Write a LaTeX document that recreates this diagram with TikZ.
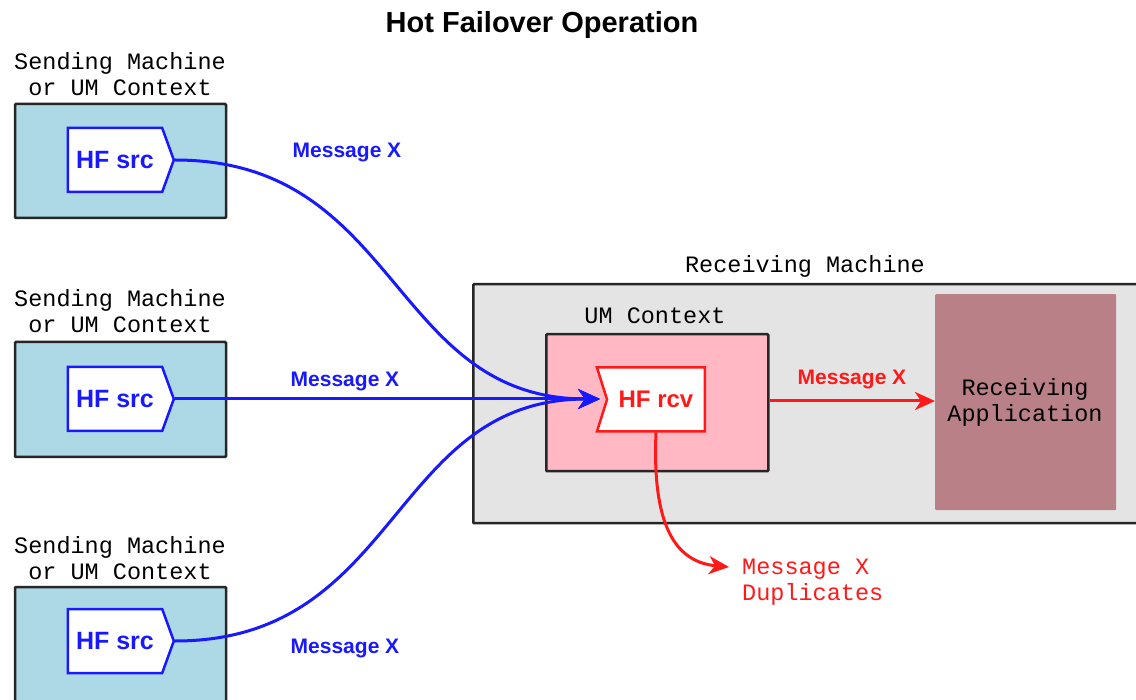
\documentclass[tikz,border=0pt]{standalone}
\usepackage{fontspec}
\setmainfont{Liberation Sans}
\newfontfamily\monofont{Liberation Mono}
\usepackage{xcolor}
\usetikzlibrary{arrows.meta,shapes.symbols}

\definecolor{srcblue}{RGB}{173,216,230}
\definecolor{ctxpink}{RGB}{255,184,196}
\definecolor{machgray}{RGB}{228,228,228}
\definecolor{appmauve}{RGB}{186,128,136}
\definecolor{msgblue}{RGB}{25,25,255}
\definecolor{msgred}{RGB}{255,25,25}

\tikzset{
  box/.style={draw=black!85, line width=2.5, rounded corners=1, inner sep=0},
  caption/.style={font=\monofont\fontsize{23.5}{26}\selectfont, align=center, inner sep=0},
  hfsrc/.style={signal, signal to=east, signal pointer angle=140, draw=msgblue, fill=white,
    line width=2.5, text=msgblue, font=\bfseries\fontsize{25}{28}\selectfont,
    minimum width=106, minimum height=64, inner sep=0},
  hfrcv/.style={signal, signal from=west, signal to=nowhere, signal pointer angle=145, draw=msgred,
    fill=white, line width=2.5, text=msgred, font=\bfseries\fontsize{24}{28}\selectfont,
    minimum width=108, minimum height=64, inner sep=0},
  bluemsg/.style={msgblue, line width=3, -{Stealth[length=22, width=20, inset=7]}},
  redmsg/.style={msgred, line width=3, -{Stealth[length=20, width=18, inset=6]}},
  msglabel/.style={font=\bfseries\fontsize{21}{24}\selectfont, inner sep=0}
}

\begin{document}
\begin{tikzpicture}[x=1pt, y=-1pt]
\clip (0,0) rectangle (1136,700);
\fill[white] (0,0) rectangle (1136,700);

\node[font=\bfseries\fontsize{29}{32}\selectfont, inner sep=0] (title) at (542,25) {Hot Failover Operation};

\node[box, fill=srcblue, minimum width=211, minimum height=114] (send1) at (120.5,161) {};
\node[box, fill=srcblue, minimum width=211, minimum height=115] (send2) at (120.5,399.5) {};
\node[box, fill=srcblue, minimum width=211, minimum height=130] (send3) at (120.5,652) {};
\node[caption] (send1cap) at (120,74) {Sending Machine\\or UM Context};
\node[caption] (send2cap) at (120,311) {Sending Machine\\or UM Context};
\node[caption] (send3cap) at (120,558) {Sending Machine\\or UM Context};

\node[hfsrc] (src1) at (115,160) {HF src};
\node[hfsrc] (src2) at (115,399) {HF src};
\node[hfsrc] (src3) at (115,641) {HF src};

\node[box, fill=machgray, minimum width=680, minimum height=239, anchor=north west] (recv) at (472,283) {};
\node[caption] (recvcap) at (805,266) {Receiving Machine};

\node[fill=appmauve, rounded corners=1, minimum width=181, minimum height=216, anchor=north west] (app) at (935,294) {};
\node[caption] (appcap) at (1025,402) {Receiving\\Application};

\node[box, fill=ctxpink, minimum width=222, minimum height=137, anchor=north west] (ctx) at (545,333) {};
\node[caption] (ctxcap) at (655,316) {UM Context};

\node[hfrcv] (rcv) at (656,399.5) {HF rcv};
\coordinate (rcvin) at (600,399);
\coordinate (dup) at (729,567);

\draw[bluemsg] (src1.east) .. controls (400,160) and (390,399) .. (rcvin);
\draw[bluemsg] (src2.east) -- (rcvin);
\draw[bluemsg] (src3.east) .. controls (400,641) and (390,399) .. (rcvin);
\node[msglabel, text=msgblue] (msg1) at (347,153) {Message X};
\node[msglabel, text=msgblue] (msg2) at (345,382) {Message X};
\node[msglabel, text=msgblue] (msg3) at (345,648) {Message X};

\draw[redmsg] (ctx.east |- 0,401) -- (app.west |- 0,401);
\node[msglabel, text=msgred] (msg4) at (852,380) {Message X};
\draw[redmsg] (rcv.south) .. controls (652,525) and (675,562) .. (dup);
\node[caption, text=msgred, align=left, anchor=west] (dupcap) at (742,582) {Message X\\Duplicates};
\end{tikzpicture}
\end{document}
